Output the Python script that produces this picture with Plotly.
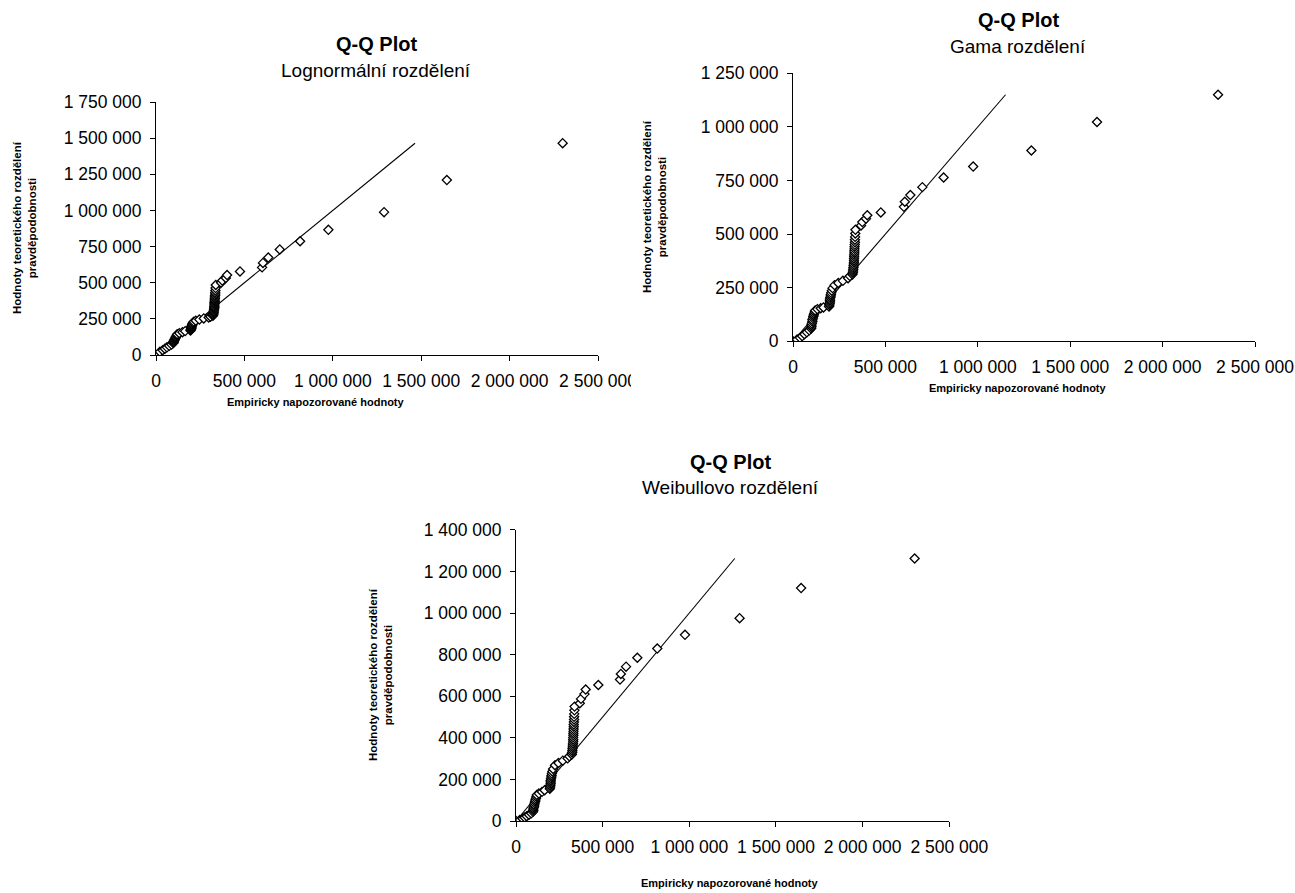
import plotly.graph_objects as go

# ---------------- data ----------------
empirical = [
    0,
    22000, 38000, 50000, 62000, 75000, 88000,
    98000, 100000, 100000, 102000, 105000, 105000, 108000, 110000, 112000, 115000, 118000, 120000,
    132000, 150000, 165000,
    195000, 197000, 198000, 200000, 200000, 200000, 202000, 204000, 205000, 207000, 210000, 214000,
    225000, 245000, 270000,
    298000, 308000,
    322000, 324000, 325000, 326000, 327000, 328000, 329000, 330000, 330000, 330000, 331000,
    331000, 332000, 332000, 333000, 333000, 334000, 335000, 335000, 336000, 337000, 338000,
    368000, 375000, 395000, 402000,
    475000,
    600000, 605000, 635000, 700000, 815000, 975000, 1290000, 1645000, 2300000,
]

lognormal_q = [
    0,
    22000, 33000, 43000, 53000, 63000, 72000,
    82000, 88000, 93000, 98000, 103000, 108000, 113000, 118000, 124000, 130000, 137000, 144000,
    151000, 158000, 165000,
    170000, 175000, 180000, 185000, 190000, 195000, 200000, 206000, 212000, 218000, 224000, 230000,
    237000, 245000, 253000,
    259000, 265000,
    272000, 280000, 288000, 296000, 304000, 312000, 320000, 328000, 336000, 345000, 354000,
    363000, 372000, 381000, 391000, 401000, 411000, 422000, 433000, 446000, 463000, 484000,
    500000, 515000, 533000, 553000,
    578000,
    606000, 637000, 674000, 730000, 787000, 866000, 988000, 1210000, 1465000,
]

gamma_q = [
    0,
    8000, 16000, 24000, 33000, 42000, 51000,
    60000, 68000, 76000, 84000, 92000, 100000, 108000, 116000, 123000, 130000, 137000, 144000,
    150000, 154000, 158000,
    162000, 169000, 176000, 183000, 190000, 197000, 204000, 211000, 218000, 226000, 236000, 248000,
    262000, 272000, 282000,
    294000, 304000,
    312000, 320000, 328000, 336000, 344000, 352000, 360000, 368000, 376000, 385000, 394000,
    403000, 412000, 421000, 431000, 441000, 451000, 462000, 474000, 487000, 503000, 520000,
    540000, 556000, 572000, 588000,
    601000,
    627000, 651000, 682000, 719000, 764000, 815000, 890000, 1023000, 1150000,
]

weibull_q = [
    0,
    5000, 11000, 17000, 23000, 30000, 37000,
    44000, 51000, 58000, 65000, 72000, 79000, 86000, 94000, 101000, 109000, 117000, 125000,
    132000, 140000, 148000,
    155000, 163000, 171000, 179000, 187000, 195000, 203000, 211000, 219000, 228000, 238000, 250000,
    268000, 279000, 290000,
    301000, 311000,
    320000, 329000, 338000, 347000, 356000, 365000, 374000, 383000, 392000, 402000, 412000,
    422000, 432000, 442000, 453000, 464000, 476000, 488000, 501000, 515000, 532000, 550000,
    566000, 587000, 610000, 632000,
    654000,
    680000, 707000, 742000, 785000, 829000, 895000, 975000, 1120000, 1262000,
]

x_ticks = [0, 500000, 1000000, 1500000, 2000000, 2500000]
y_ticks_lognormal = [0, 250000, 500000, 750000, 1000000, 1250000, 1500000, 1750000]
y_ticks_gamma = [0, 250000, 500000, 750000, 1000000, 1250000]
y_ticks_weibull = [0, 200000, 400000, 600000, 800000, 1000000, 1200000, 1400000]

title_main = "Q-Q Plot"
subtitles = ["Lognormální rozdělení", "Gama rozdělení", "Weibullovo rozdělení"]
x_title = "Empiricky napozorované hodnoty"
y_title = "Hodnoty teoretického rozdělení<br>pravděpodobnosti"

# ---------------- layout geometry (pixels) ----------------
W, H = 1295, 893
FONT = "Liberation Sans, Arial, sans-serif"


def px(x):
    return x / W


def py(y):
    return 1 - y / H


panels = [
    dict(x0=156, x1=598, yt=102, yb=355, yticks=y_ticks_lognormal, ydata=lognormal_q,
         title_xy=(376, 44), sub_xy=(376, 70), xt_xy=(316, 402), yt_xy=(25, 228)),
    dict(x0=793, x1=1255, yt=73.3, yb=341.3, yticks=y_ticks_gamma, ydata=gamma_q,
         title_xy=(1018, 20), sub_xy=(1018, 46), xt_xy=(1018, 388), yt_xy=(654, 207)),
    dict(x0=516, x1=949.3, yt=529.8, yb=821, yticks=y_ticks_weibull, ydata=weibull_q,
         title_xy=(730, 462), sub_xy=(730, 488), xt_xy=(730, 883), yt_xy=(380, 675)),
]

fig = go.Figure()
annotations = []
axis_common = dict(
    showline=True, linecolor="black", linewidth=1,
    ticks="outside", ticklen=5, tickcolor="black", tickwidth=1,
    showgrid=False, zeroline=False, automargin=False,
    ticklabeloverflow="allow",
    tickfont=dict(family=FONT, size=17.5, color="black"),
    tickformat=",d", fixedrange=True,
)

for i, p in enumerate(panels):
    n = "" if i == 0 else str(i + 1)
    ydata = p["ydata"]
    # reference line: theoretical vs theoretical
    fig.add_trace(go.Scatter(
        x=ydata, y=ydata, mode="lines",
        line=dict(color="black", width=1.1),
        xaxis="x" + n, yaxis="y" + n, showlegend=False, hoverinfo="skip",
    ))
    fig.add_trace(go.Scatter(
        x=empirical, y=ydata, mode="markers",
        marker=dict(symbol="diamond", size=7, color="white",
                    line=dict(color="black", width=1.3)),
        xaxis="x" + n, yaxis="y" + n, showlegend=False,
    ))
    fig.layout["xaxis" + n] = dict(
        axis_common, domain=[px(p["x0"]), px(p["x1"])],
        range=[0, x_ticks[-1]], tickvals=x_ticks, anchor="y" + n,
        ticklabelstandoff=5,
    )
    fig.layout["yaxis" + n] = dict(
        axis_common, domain=[py(p["yb"]), py(p["yt"])],
        range=[0, p["yticks"][-1]], tickvals=p["yticks"], anchor="x" + n,
        ticklabelstandoff=5,
    )
    annotations.append(dict(
        text="<b>" + title_main + "</b>", x=px(p["title_xy"][0]), y=py(p["title_xy"][1]),
        xref="paper", yref="paper", showarrow=False, xanchor="center", yanchor="middle",
        font=dict(family=FONT, size=20, color="black"),
    ))
    annotations.append(dict(
        text=subtitles[i], x=px(p["sub_xy"][0]), y=py(p["sub_xy"][1]),
        xref="paper", yref="paper", showarrow=False, xanchor="center", yanchor="middle",
        font=dict(family=FONT, size=19, color="black"),
    ))
    annotations.append(dict(
        text="<b>" + x_title + "</b>", x=px(p["xt_xy"][0]), y=py(p["xt_xy"][1]),
        xref="paper", yref="paper", showarrow=False, xanchor="center", yanchor="middle",
        font=dict(family=FONT, size=11, color="black"),
    ))
    annotations.append(dict(
        text="<b>" + y_title + "</b>", x=px(p["yt_xy"][0]), y=py(p["yt_xy"][1]),
        xref="paper", yref="paper", showarrow=False, xanchor="center", yanchor="middle",
        textangle=-90, font=dict(family=FONT, size=11.5, color="black"),
    ))

# white mask replicating the clipped last tick label of the first chart
shapes = [dict(type="rect", xref="paper", yref="paper", layer="above",
               x0=px(631), x1=px(642), y0=py(394), y1=py(366),
               fillcolor="white", line=dict(width=0))]

fig.update_layout(
    width=W, height=H, margin=dict(l=0, r=0, t=0, b=0, autoexpand=False),
    paper_bgcolor="white", plot_bgcolor="white",
    separators=", ", annotations=annotations, shapes=shapes,
    font=dict(family=FONT, color="black"),
)

fig.write_html("out.html", config={"displayModeBar": False})

# remove the browser's default page margin so the figure sits at (0, 0)
with open("out.html", "r", encoding="utf-8") as f:
    html = f.read()
html = html.replace("<body>", '<body style="margin:0;overflow:hidden">', 1)
with open("out.html", "w", encoding="utf-8") as f:
    f.write(html)
